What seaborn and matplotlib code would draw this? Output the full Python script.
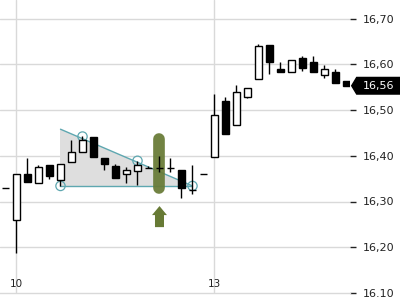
import numpy as np
import pandas as pd
import matplotlib
matplotlib.use("Agg")
import matplotlib.pyplot as plt
from matplotlib.patches import FancyArrow, Polygon
import matplotlib.transforms as mtransforms
import seaborn as sns

# ---- data ----
opens = [16.330, 16.260, 16.360, 16.340, 16.380, 16.348, 16.387, 16.409, 16.440, 16.396,
         16.378, 16.360, 16.367, 16.374, 16.374, 16.374, 16.369, 16.325, 16.360, 16.398,
         16.520, 16.468, 16.528, 16.568, 16.641, 16.590, 16.582, 16.614, 16.605, 16.577,
         16.583, 16.563]
closes = [16.330, 16.360, 16.343, 16.375, 16.355, 16.383, 16.409, 16.434, 16.398, 16.383,
          16.352, 16.369, 16.380, 16.374, 16.374, 16.374, 16.329, 16.325, 16.360, 16.488,
          16.448, 16.539, 16.547, 16.640, 16.604, 16.582, 16.609, 16.592, 16.582, 16.589,
          16.558, 16.553]
highs = [16.330, 16.360, 16.396, 16.380, 16.380, 16.383, 16.434, 16.443, 16.440, 16.396,
         16.383, 16.376, 16.389, 16.378, 16.400, 16.394, 16.369, 16.380, 16.360, 16.536,
         16.528, 16.555, 16.547, 16.644, 16.641, 16.604, 16.609, 16.618, 16.618, 16.598,
         16.590, 16.563]
lows = [16.330, 16.187, 16.343, 16.340, 16.350, 16.334, 16.387, 16.409, 16.398, 16.369,
        16.352, 16.341, 16.335, 16.374, 16.365, 16.365, 16.307, 16.316, 16.360, 16.398,
        16.448, 16.468, 16.526, 16.568, 16.579, 16.582, 16.582, 16.585, 16.582, 16.571,
        16.558, 16.553]

xtick_pos = [1, 19]
xtick_labels = ["10", "13"]
ytick_vals = [16.10, 16.20, 16.30, 16.40, 16.50, 16.60, 16.70]
ytick_labels = ["16.10", "16,20", "16,30", "16,40", "16,50", "16,60", "16,70"]

# descending triangle pattern
tri_x = [5, 5, 17]
tri_y = [16.458, 16.334, 16.334]
pivot_x = [5, 7, 12, 17]
pivot_y = [16.334, 16.442, 16.389, 16.334]

signal_x = 14
signal_range = [16.329, 16.436]
arrow_range = [16.244, 16.290]

last_label = "16,56"

df = pd.DataFrame({"open": opens, "close": closes, "high": highs, "low": lows})
df["x"] = np.arange(len(df))

sns.set_style("white")
plt.rcParams["font.family"] = ["DejaVu Sans"]

fig = plt.figure(figsize=(4, 3), dpi=100)
ax = fig.add_axes([0, 7 / 300, 350 / 400, 293 / 300])

grid_c = "#d9d9d9"
teal = "#5ea7b0"
olive = "#677a35"

# gridlines
for v in ytick_vals[1:]:
    ax.axhline(v, color=grid_c, lw=1, zorder=0)
for xp in xtick_pos:
    ax.axvline(xp, color=grid_c, lw=1, zorder=0)

# pattern triangle
ax.fill(tri_x, tri_y, color="#dedede", zorder=1, lw=0)
ax.plot([tri_x[0], tri_x[2]], [tri_y[0], tri_y[2]], color=teal, lw=1, zorder=1.5)
ax.plot([tri_x[1], tri_x[2]], [tri_y[1], tri_y[2]], color=teal, lw=1, zorder=1.5)
sns.scatterplot(x=pivot_x, y=pivot_y, ax=ax, s=45, facecolor="none",
                edgecolor=teal, linewidth=0.9, zorder=1.6, legend=False)

# signal capsule
ax.plot([signal_x, signal_x], signal_range, color=olive, lw=8.4,
        solid_capstyle="round", alpha=0.93, zorder=2)
# arrow
ax.add_patch(FancyArrow(signal_x, arrow_range[0], 0, arrow_range[1] - arrow_range[0],
                        width=0.82, head_width=1.36, head_length=0.0197,
                        length_includes_head=True, color=olive, lw=0, zorder=2))

# candles
bw = 0.72
ax.vlines(df["x"], df["low"], df["high"], color="black", lw=1, zorder=3)
body = df[df["open"] != df["close"]]
up = body["close"] > body["open"]
ax.bar(body["x"], (body["close"] - body["open"]).abs(),
       bottom=body[["open", "close"]].min(axis=1), width=bw,
       color=np.where(up, "white", "black"), edgecolor="black", linewidth=1, zorder=4)
doji = df[df["open"] == df["close"]]
ax.hlines(doji["close"], doji["x"] - bw / 2, doji["x"] + bw / 2, color="black", lw=1, zorder=4)

# axes
ax.set_xlim(-0.5, 31.32)
ax.set_ylim(16.10, 16.70 + 18.5 / 457.5)
for s in ["top", "left", "right"]:
    ax.spines[s].set_visible(False)
ax.spines["bottom"].set_color(grid_c)
ax.spines["bottom"].set_linewidth(1)

ax.set_xticks(xtick_pos)
ax.set_xticklabels([])
ax.tick_params(axis="x", direction="out", length=2.5, width=1, color="#222222")
trans = mtransforms.blended_transform_factory(ax.transData, ax.transAxes)
for xp, lab in zip(xtick_pos, xtick_labels):
    ax.text(xp, 0.012, lab, transform=trans, ha="center", va="bottom",
            fontsize=7.5, color="#222222")

ax.yaxis.tick_right()
ax.set_yticks(ytick_vals)
ax.set_yticklabels(ytick_labels)
ax.tick_params(axis="y", direction="out", length=4, width=1, color="#222222",
               pad=5, labelsize=8, labelcolor="#222222")

# last price tag
last = closes[-1]
hh = 8.3 / 457.5
x0 = 351.7 / 350
x1 = 356.7 / 350
x2 = 400 / 350
ttrans = mtransforms.blended_transform_factory(ax.transAxes, ax.transData)
tag = Polygon([[x0, last], [x1, last + hh], [x2, last + hh], [x2, last - hh], [x1, last - hh]],
              closed=True, transform=ttrans, color="black", clip_on=False, zorder=10)
ax.add_patch(tag)
ax.text(363 / 350, last, last_label, transform=ttrans, ha="left", va="center",
        fontsize=8, color="white", zorder=11, clip_on=False)

fig.savefig("out.png", dpi=100)
